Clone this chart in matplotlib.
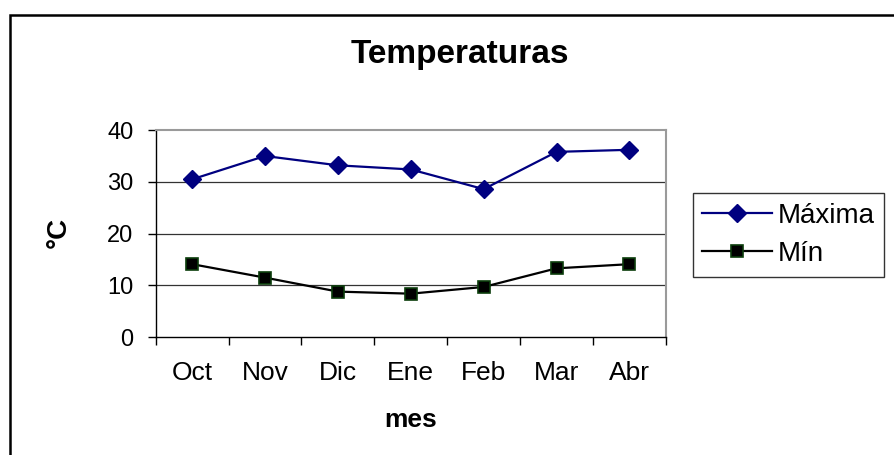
import numpy as np
import matplotlib.pyplot as plt
from matplotlib.patches import Rectangle

# monthly temperatures
meses = ['Oct', 'Nov', 'Dic', 'Ene', 'Feb', 'Mar', 'Abr']
maxima = [30.5, 35.0, 33.2, 32.4, 28.6, 35.8, 36.2]
minima = [14.1, 11.5, 8.8, 8.4, 9.7, 13.3, 14.1]

plt.rcParams['font.family'] = ['Liberation Sans', 'DejaVu Sans']

fig = plt.figure(figsize=(8.95, 4.55), dpi=100)
ax = fig.add_axes([0.174, 0.259, 0.570, 0.455])

x = np.arange(len(meses))
ax.plot(x, maxima, color='#000080', lw=1.6, marker='D', ms=9,
        mfc='#000080', mec='#000080', label='Máxima')
ax.plot(x, minima, color='black', lw=1.6, marker='s', ms=8.5,
        mfc='black', mec='#0b3d0b', mew=1.2, label='Mín')

ax.set_xlim(-0.5, len(meses) - 0.5)
ax.set_ylim(0, 40)
ax.set_yticks([0, 10, 20, 30, 40])
for v in [10, 20, 30]:
    ax.axhline(v, color='#333333', lw=0.9, zorder=0)

# ticks on category borders, labels in the centre
ax.set_xticks(np.arange(-0.5, len(meses)), labels=[])
ax.set_xticks(x, labels=meses, minor=True)
ax.tick_params(axis='x', which='major', direction='out', length=6, width=1)
ax.tick_params(axis='x', which='minor', length=0, pad=17, labelsize=19)
ax.tick_params(axis='y', direction='out', length=6, width=1, pad=10, labelsize=17)

for s in ['top', 'right']:
    ax.spines[s].set_color('#9a9a9a')
    ax.spines[s].set_linewidth(1.5)
for s in ['left', 'bottom']:
    ax.spines[s].set_color('black')
    ax.spines[s].set_linewidth(1)

fig.text(0.514, 0.8615, 'Temperaturas', ha='center', va='baseline',
         fontsize=24, fontweight='bold')
fig.text(0.066, 0.49, '°C', ha='center', va='center', rotation=90,
         fontsize=20, fontweight='bold')
fig.text(0.459, 0.0615, 'mes', ha='center', va='baseline',
         fontsize=19, fontweight='bold')

leg = fig.legend(loc='upper left', bbox_to_anchor=(0.774, 0.576),
                 fontsize=20, frameon=True, fancybox=False, edgecolor='black',
                 handlelength=2.5, handletextpad=0.2, labelspacing=0.45,
                 borderpad=0.35, borderaxespad=0)
leg.get_frame().set_linewidth(1)

# outer chart border
fig.patches.append(Rectangle((0.011, -0.2), 1.2, 1.167, transform=fig.transFigure,
                             fill=False, edgecolor='black', lw=1.8))

fig.savefig('out.png', dpi=100)
